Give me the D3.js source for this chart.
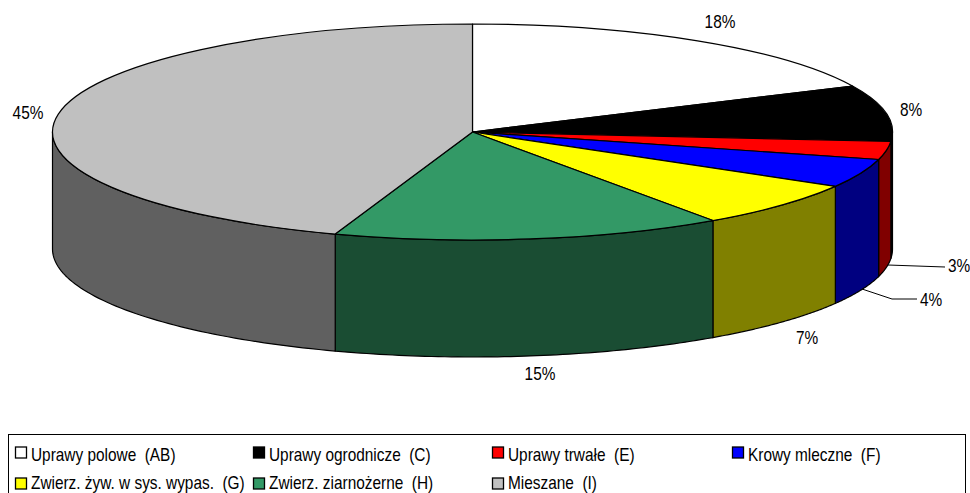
<!DOCTYPE html>
<html>
<head>
<meta charset="utf-8">
<script src="https://cdn.jsdelivr.net/npm/d3@7"></script>
<style>
  html, body { margin: 0; padding: 0; background: #fff; overflow: hidden; }
  text { font-family: "Liberation Sans", Arial, sans-serif; fill: #000; }
</style>
</head>
<body>
<svg id="svgChart" width="970" height="493"></svg>
<script>
var categories = ["Uprawy polowe  (AB)", "Uprawy ogrodnicze  (C)", "Uprawy trwałe  (E)", "Krowy mleczne  (F)",
                  "Zwierz. żyw. w sys. wypas.  (G)", "Zwierz. ziarnożerne  (H)", "Mieszane  (I)"];
// shares read from the slice edges, the printed labels are these rounded
var shares = [18.0, 8.4, 2.7, 4.3, 6.9, 15.0, 44.7];
var topColors = ["#ffffff", "#000000", "#ff0000", "#0000ff", "#ffff00", "#339966", "#c0c0c0"];
var sideColors = ["#808080", "#000000", "#800000", "#000080", "#808000", "#1a4d33", "#606060"];

var cx = 472.5, cy = 132, rx = 420, ry = 108, depth = 117;
var textScale = 0.88; // reference text is narrow

// position of the percent labels (baseline), leader lines
var labelPos = [[720, 28], [911, 116], [959, 272], [931, 306], [807, 344], [540, 380], [28, 119]];
var leaders = { 2: [[888, 265], [945, 267]], 3: [[862, 289], [892, 299], [917, 299]] };

var svg = d3.select("#svgChart");
var pie = d3.pie().sort(null).value(function(d) { return d; });
var slices = pie(shares);

function px(a) { return cx + rx * Math.sin(a); }
function py(a) { return cy - ry * Math.cos(a); }

// rim, only the front half of the ellipse shows
var rim = svg.append("g");
slices.forEach(function(s, i) {
  var a0 = Math.max(s.startAngle, Math.PI / 2);
  var a1 = Math.min(s.endAngle, Math.PI * 1.5);
  if (a1 <= a0) return;
  var p = d3.path();
  p.moveTo(px(a0), py(a0));
  p.lineTo(px(a0), py(a0) + depth);
  var n = 60;
  for (var k = 1; k <= n; k++) {
    var a = a0 + (a1 - a0) * k / n;
    p.lineTo(px(a), py(a) + depth);
  }
  p.lineTo(px(a1), py(a1));
  for (k = n - 1; k >= 0; k--) {
    a = a0 + (a1 - a0) * k / n;
    p.lineTo(px(a), py(a));
  }
  p.closePath();
  rim.append("path")
    .attr("d", p.toString())
    .attr("fill", sideColors[i])
    .attr("stroke", "#000")
    .attr("stroke-width", 1.2)
    .attr("stroke-linejoin", "round");
});

// top face: pie squashed to an ellipse
var arc = d3.arc().innerRadius(0).outerRadius(rx);
svg.append("g")
    .attr("transform", "translate(" + cx + "," + cy + ") scale(1," + (ry / rx) + ")")
  .selectAll("path")
  .data(slices)
  .enter().append("path")
    .attr("d", arc)
    .attr("fill", function(d, i) { return topColors[i]; })
    .attr("stroke", "#000")
    .attr("stroke-width", 1.2)
    .attr("vector-effect", "non-scaling-stroke")
    .attr("stroke-linejoin", "round");

var lineGen = d3.line();
Object.keys(leaders).forEach(function(k) {
  svg.append("path")
    .attr("d", lineGen(leaders[k]))
    .attr("fill", "none")
    .attr("stroke", "#000")
    .attr("stroke-width", 1);
});

svg.selectAll("text.pct")
  .data(shares)
  .enter().append("text")
    .attr("class", "pct")
    .attr("transform", function(d, i) {
      return "translate(" + labelPos[i][0] + "," + labelPos[i][1] + ") scale(" + textScale + ",1)";
    })
    .attr("text-anchor", "middle")
    .attr("font-size", 17.5)
    .text(function(d) { return Math.round(d) + "%"; });

// legend
svg.append("rect")
  .attr("x", 8.5).attr("y", 434.5).attr("width", 957).attr("height", 70)
  .attr("fill", "#fff").attr("stroke", "#000").attr("stroke-width", 1);

var colX = [15, 253, 492, 732];
var rowY = [452.5, 483.5];
var legend = svg.selectAll("g.legend")
  .data(categories)
  .enter().append("g")
    .attr("class", "legend")
    .attr("transform", function(d, i) {
      return "translate(" + colX[i % 4] + "," + rowY[i < 4 ? 0 : 1] + ")";
    });

legend.append("rect")
  .attr("x", 0.5).attr("y", -5.5).attr("width", 11).attr("height", 11)
  .attr("fill", function(d, i) { return topColors[i]; })
  .attr("stroke", "#000")
  .attr("stroke-width", 1.3);

// second row sits a bit higher so the descenders stay inside the page
legend.append("text")
  .attr("transform", function(d, i) {
    return "translate(16," + (i < 4 ? 8 : 5.2) + ") scale(" + textScale + ",1)";
  })
  .attr("font-size", 17.5)
  .style("white-space", "pre")
  .text(function(d) { return d; });
</script>
</body>
</html>
